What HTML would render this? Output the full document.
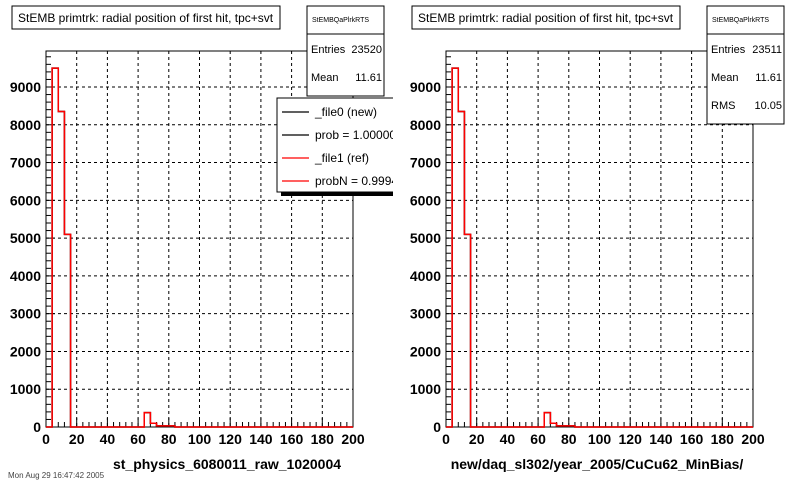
<!DOCTYPE html>
<html><head><meta charset="utf-8"><style>
body{margin:0;background:#fff;width:800px;height:480px;overflow:hidden}
svg{font-family:"Liberation Sans",sans-serif}
</style></head><body>
<svg id="c" width="800" height="480"><defs><clipPath id="lclip"><rect x="0" y="0" width="393" height="480"/></clipPath></defs></svg>
<script>
const binEdgesStart = 0, binWidth = 4;
const valuesNew = [0,9500,8350,5100,0,0,0,0,0,0,0,0,0,0,0,0,380,100,30,30,30,0,0,0,0,0,0,0,0,0,0,0,0,0,0,0,0,0,0,0,0,0,0,0,0,0,0,0,0,0];
const valuesRef = [0,9500,8350,5100,0,0,0,0,0,0,0,0,0,0,0,0,380,100,30,30,30,0,0,0,0,0,0,0,0,0,0,0,0,0,0,0,0,0,0,0,0,0,0,0,0,0,0,0,0,0];
const xTicks = [0,20,40,60,80,100,120,140,160,180,200];
const yTicks = [0,1000,2000,3000,4000,5000,6000,7000,8000,9000];
const xTitles = ["st_physics_6080011_raw_1020004","new/daq_sl302/year_2005/CuCu62_MinBias/"];
const stats = [[["Entries","23520"],["Mean","11.61"]],[["Entries","23511"],["Mean","11.61"],["RMS","10.05"]]];
const legendLabels = ["_file0 (new)","prob = 1.000000","_file1 (ref)","probN = 0.99944"];
const legendColors = ["#000","#000","#f00","#f00"];

const NS="http://www.w3.org/2000/svg", svg=document.getElementById('c');
function mk(t,a,p){const e=document.createElementNS(NS,t);for(const k in a)e.setAttribute(k,a[k]);(p||svg).appendChild(e);return e;}

function panel(off, idx){
  const L=46+off,R=353+off,T=51,B=427,yMax=9953;
  const sx=v=>L+(v-0)/200*(R-L), sy=v=>B-v/yMax*(B-T);
  const g=mk('g',{});
  
  
  xTicks.slice(1,-1).forEach(t=>{const l=mk('line',{x1:sx(t),x2:sx(t),y1:T,y2:B,stroke:'#000','stroke-dasharray':'3,3'},g);
    });
  yTicks.slice(1).forEach(t=>{const l=mk('line',{x1:L,x2:R,y1:sy(t),y2:sy(t),stroke:'#000','stroke-dasharray':'3,3'},g);
    });
  const fr=mk('rect',{x:L,y:T,width:R-L,height:B-T,fill:'none',stroke:'#000'},g);
  
  for(let v=0;v<=200;v+=4){const big=v%20==0;mk('line',{x1:sx(v),x2:sx(v),y1:B,y2:B-(big?9:5),stroke:'#000'},g);}
  for(let v=0;v<=9900;v+=200){const big=v%1000==0;mk('line',{x1:L,x2:L+(big?9:5),y1:sy(v),y2:sy(v),stroke:'#000'},g);}
  xTicks.forEach(t=>{const e=mk('text',{x:sx(t),y:B+17,'text-anchor':'middle','font-size':14,'font-weight':'bold'},g);e.textContent=t;
    });
  yTicks.forEach(t=>{const e=mk('text',{x:L-5,y:sy(t)+5,'text-anchor':'end','font-size':14,'font-weight':'bold'},g);e.textContent=t;
    });
  const xt=mk('text',{x:off+(idx?197:227),y:469,'text-anchor':'middle','font-size':14,'font-weight':'bold'},g);xt.textContent=xTitles[idx];
  
  function hist(vals,col,name){let d='M'+sx(0)+','+sy(0);
    vals.forEach((v,i)=>{const x0=sx(binEdgesStart+i*binWidth),x1=sx(binEdgesStart+(i+1)*binWidth);d+=' L'+x0+','+sy(v)+' L'+x1+','+sy(v);});
    const p=mk('path',{d:d,fill:'none',stroke:col,'stroke-width':1.5},g);
    }
  hist(valuesNew,'#000','histogram-new');
  hist(valuesRef,'#f00','histogram-ref');
  const tb=mk('rect',{x:off+12,y:6,width:268,height:23,fill:'#fff',stroke:'#000'},g);
  
  const tt=mk('text',{x:off+18,y:22,'font-size':12},g);tt.textContent='StEMB primtrk: radial position of first hit, tpc+svt';
  
  const st=stats[idx],sh=34+st.length*28;
  const sb=mk('rect',{x:off+307,y:6,width:77,height:sh,fill:'#fff',stroke:'#000'},g);
  
  mk('line',{x1:off+307,x2:off+384,y1:34,y2:34,stroke:'#000'},g);
  const sn=mk('text',{x:off+312,y:22,'font-size':7},g);sn.textContent='StEMBQaPlrkRTS';
  st.forEach((r,i)=>{const a=mk('text',{x:off+311,y:53+i*28,'font-size':11},g);a.textContent=r[0];
    const b=mk('text',{x:off+382,y:53+i*28,'font-size':11,'text-anchor':'end'},g);b.textContent=r[1];
    
    });
}
panel(0,0);panel(400,1);
const lg=mk('g',{'clip-path':'url(#lclip)'});

mk('rect',{x:281,y:102,width:125,height:94,fill:'#000'},lg);
mk('rect',{x:277,y:98,width:125,height:94,fill:'#fff',stroke:'#000'},lg);
legendLabels.forEach((s,i)=>{const y=112+i*23;
  const l=mk('line',{x1:282,x2:309,y1:y,y2:y,stroke:legendColors[i],'stroke-width':1.2},lg);
  
  const t=mk('text',{x:315,y:y+4,'font-size':12},lg);t.textContent=s;
  });
const ft=mk('text',{x:8,y:478,'font-size':8,fill:'#444'});ft.textContent='Mon Aug 29 16:47:42 2005';

</script>
</body></html>
